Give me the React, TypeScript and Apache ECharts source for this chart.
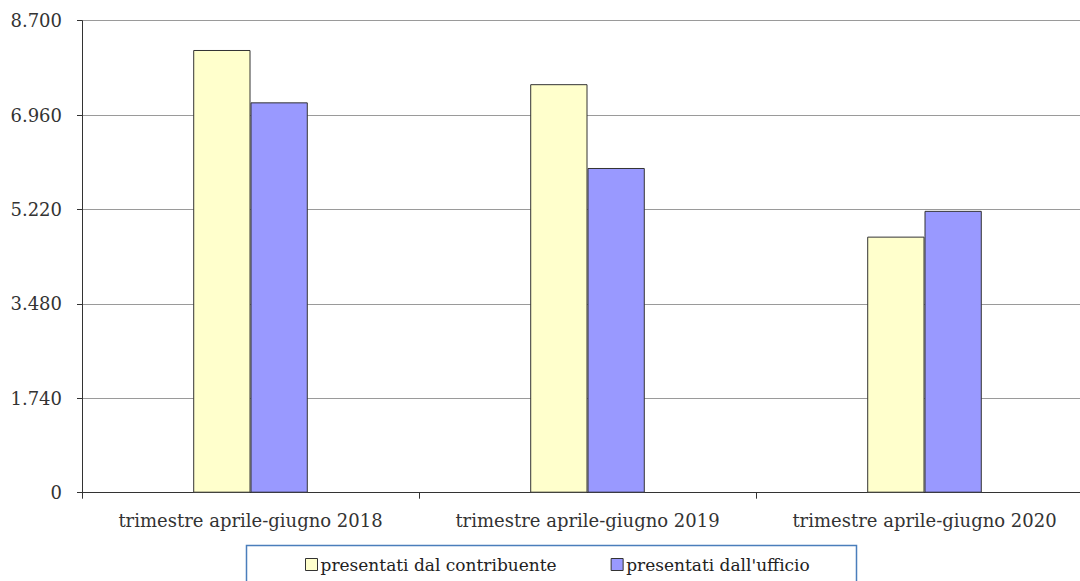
import React, { useEffect, useRef } from "react";
import * as echarts from "echarts";

const categories = [
  "trimestre aprile-giugno 2018",
  "trimestre aprile-giugno 2019",
  "trimestre aprile-giugno 2020",
];
const contribuente = [8160, 7530, 4720];
const ufficio = [7195, 5985, 5195];
const seriesNames = ["presentati dal contribuente", "presentati dall'ufficio"];

const FONT = "'DejaVu Serif', 'Liberation Serif', serif";

export default function App() {
  const ref = useRef<HTMLDivElement>(null);
  useEffect(() => {
    if (!ref.current) return;
    const chart = echarts.init(ref.current, undefined, { renderer: "svg" });
    chart.setOption({
      animation: false,
      textStyle: { fontFamily: FONT },
      grid: { left: 82, top: 20.7, width: 1011, height: 472, containLabel: false },
      xAxis: {
        type: "category",
        data: categories,
        axisLine: { lineStyle: { color: "#333", width: 1 } },
        axisTick: { show: true, interval: 0, length: 6, lineStyle: { color: "#333" } },
        axisLabel: { color: "#333", fontSize: 18, fontFamily: FONT, margin: 19, interval: 0, hideOverlap: false },
      },
      yAxis: {
        type: "value",
        min: 0,
        max: 8700,
        interval: 1740,
        axisLine: { show: true, lineStyle: { color: "#333", width: 1 } },
        axisTick: { show: true, length: 5, lineStyle: { color: "#333" } },
        splitLine: { lineStyle: { color: "#9a9a9a", width: 1 } },
        axisLabel: {
          color: "#333",
          fontSize: 18,
          fontFamily: FONT,
          margin: 20,
          formatter: (v: number) => v.toString().replace(/\B(?=(\d{3})+(?!\d))/g, "."),
        },
      },
      legend: {
        left: 305,
        top: 556,
        padding: 0,
        itemWidth: 12,
        itemHeight: 12,
        itemGap: 54,
        icon: "rect",
        textStyle: { color: "#222", fontSize: 17, fontFamily: FONT, padding: [0, 0, 0, -2] },
        data: seriesNames.map((n) => ({ name: n, itemStyle: { borderColor: "#333", borderWidth: 1 } })),
      },
      graphic: [
        {
          type: "rect",
          shape: { x: 246.5, y: 545.5, width: 610, height: 60 },
          style: { fill: "none", stroke: "#4a7ebb", lineWidth: 1.5 },
          silent: true,
          z: -1,
        },
      ],
      series: [
        {
          name: seriesNames[0],
          type: "bar",
          data: contribuente,
          barGap: "0%",
          barCategoryGap: "66%",
          itemStyle: { color: "#FFFFCC", borderColor: "#333", borderWidth: 1 },
        },
        {
          name: seriesNames[1],
          type: "bar",
          data: ufficio,
          itemStyle: { color: "#9999FF", borderColor: "#333", borderWidth: 1 },
        },
      ],
    });
    return () => chart.dispose();
  }, []);
  return (
    <div style={{ width: 1080, height: 581, position: "absolute", left: 0, top: 0, overflow: "hidden" }}>
      <div ref={ref} style={{ width: 1100, height: 581 }} />
    </div>
  );
}
